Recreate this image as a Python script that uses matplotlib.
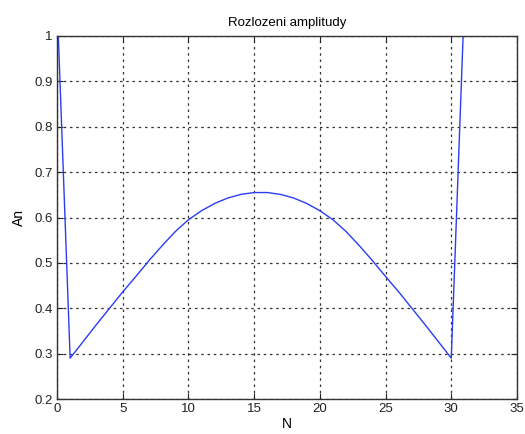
import matplotlib
matplotlib.use("Agg")
import matplotlib.pyplot as plt
import numpy as np

plt.rcParams['font.family'] = ['Liberation Sans', 'DejaVu Sans']

N = list(range(0, 32))
An = [1.08, 0.290, 0.327, 0.364, 0.400, 0.436, 0.470, 0.505, 0.538, 0.569, 0.595,
      0.615, 0.631, 0.643, 0.651, 0.655, 0.655, 0.651, 0.643, 0.631, 0.615,
      0.595, 0.569, 0.538, 0.505, 0.470, 0.436, 0.400, 0.364, 0.327, 0.290, 1.08]
xticks = [0, 5, 10, 15, 20, 25, 30, 35]
yticks = [0.2, 0.3, 0.4, 0.5, 0.6, 0.7, 0.8, 0.9, 1.0]
yticklabels = ['0.2', '0.3', '0.4', '0.5', '0.6', '0.7', '0.8', '0.9', '1']

fig = plt.figure(figsize=(5.25, 4.34), dpi=100)
ax = fig.add_axes([57/525, 1-399/434, (517-57)/525, (399-36)/434])
ax.plot(N, An, color='#2b3df0', lw=1.0)
ax.set_xlim(0, 35)
ax.set_ylim(0.2, 1.0)
ax.set_xticks(xticks)
ax.set_xticklabels([str(t) for t in xticks])
ax.set_yticks(yticks)
ax.set_yticklabels(yticklabels)
ax.grid(True, color='#333333', linestyle=(0, (2, 3)), linewidth=0.9)
ax.tick_params(direction='in', length=4, labelsize=9.5, colors='#222222', pad=3,
               top=True, right=True)
for s in ax.spines.values():
    s.set_color('#333333')
    s.set_linewidth(1.0)
ax.set_title('Rozlozeni amplitudy', fontsize=9.5, pad=7)
ax.set_xlabel('N', fontsize=10, labelpad=1)
ax.set_ylabel('An', fontsize=10, labelpad=6)
fig.savefig('out.png', dpi=100, facecolor='white')
